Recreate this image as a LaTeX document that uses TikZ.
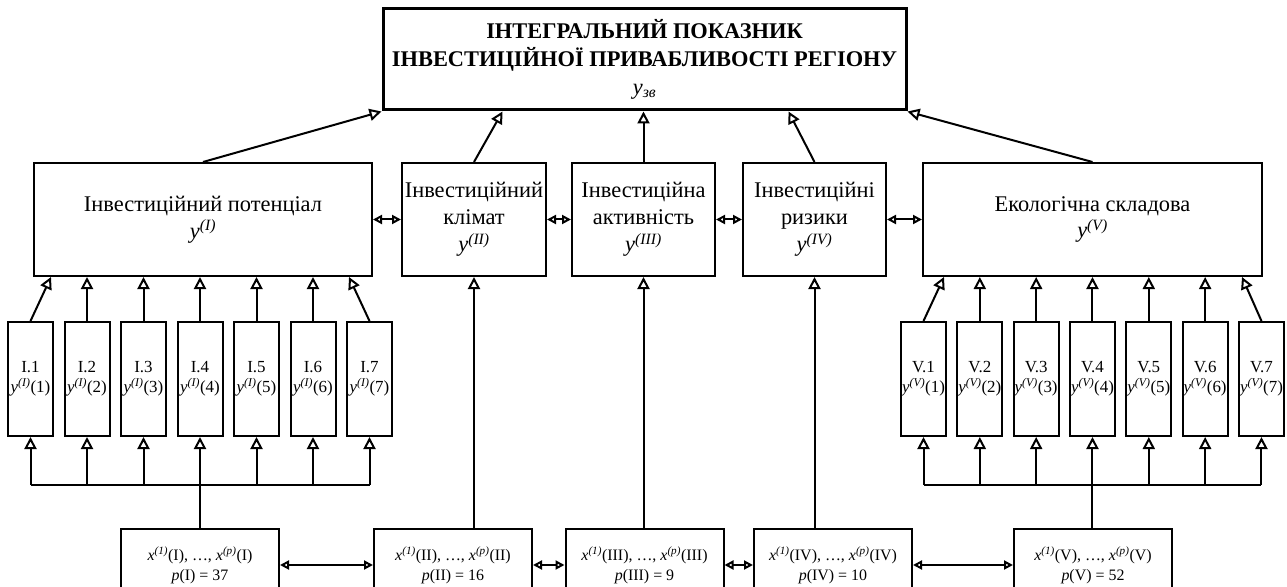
\documentclass[tikz,border=0pt]{standalone}
\usepackage{fontspec}
\setmainfont{Liberation Serif}
\usetikzlibrary{arrows.meta}
\newcommand{\yy}[1]{\textit{y}\textsuperscript{\textit{(#1)}}}
\newcommand{\xx}[1]{\textit{x}\textsuperscript{\textit{(#1)}}}
\begin{document}
\begin{tikzpicture}[x=1bp,y=-1bp,
  box/.style={draw, line width=2bp, inner sep=0pt, align=center},
  midbox/.style={box, minimum height=113bp, font=\fontsize{22.5}{27}\selectfont},
  smallbox/.style={box, minimum width=45bp, minimum height=114bp, font=\fontsize{17}{20}\selectfont},
  botbox/.style={box, minimum width=158bp, minimum height=72bp, font=\fontsize{16}{20}\selectfont},
  arr/.style={line width=2bp, -{Triangle[open,length=12bp,width=12bp,line width=2bp]}},
  dbl/.style={line width=2bp, {Triangle[open,length=9bp,width=9bp,line width=2bp]}-{Triangle[open,length=9bp,width=9bp,line width=2bp]}},
  ln/.style={line width=2bp}
]
\useasboundingbox (0,0) rectangle (1287,587);
\clip (0,0) rectangle (1287,587);
% top
\node[draw, line width=3bp, inner sep=0pt, align=center, minimum width=523bp, minimum height=101bp,
  font=\fontsize{22.5}{28}\selectfont] (top) at (644.5,59.5)
  {\textbf{ІНТЕГРАЛЬНИЙ ПОКАЗНИК}\\\textbf{ІНВЕСТИЦІЙНОЇ ПРИВАБЛИВОСТІ РЕГІОНУ}\\\textit{y}\textsubscript{\textit{зв}}};
% middle row
\node[midbox, minimum width=338bp] (m1) at (203,219.5) {Інвестиційний потенціал\\\yy{I}};
\node[midbox, minimum width=144bp] (m2) at (474,219.5) {Інвестиційний\\клімат\\\yy{II}};
\node[midbox, minimum width=143bp] (m3) at (643.5,219.5) {Інвестиційна\\активність\\\yy{III}};
\node[midbox, minimum width=143bp] (m4) at (814.5,219.5) {Інвестиційні\\ризики\\\yy{IV}};
\node[midbox, minimum width=339bp] (m5) at (1092.5,219.5) {Екологічна складова\\\yy{V}};
% small boxes
\foreach \i in {1,...,7} {
  \node[smallbox] (a\i) at ({30.5+56.5*(\i-1)},379) {I.\i\\\yy{I}(\i)};
  \node[smallbox] (v\i) at ({923.5+56.33*(\i-1)},379) {V.\i\\\yy{V}(\i)};
}
% bottom boxes
\node[botbox] (b1) at (200,565) {\xx{1}(I), …, \xx{p}(I)\\\textit{p}(I) = 37};
\node[botbox] (b2) at (453,565) {\xx{1}(II), …, \xx{p}(II)\\\textit{p}(II) = 16};
\node[botbox] (b3) at (644.5,565) {\xx{1}(III), …, \xx{p}(III)\\\textit{p}(III) = 9};
\node[botbox] (b4) at (833,565) {\xx{1}(IV), …, \xx{p}(IV)\\\textit{p}(IV) = 10};
\node[botbox] (b5) at (1093,565) {\xx{1}(V), …, \xx{p}(V)\\\textit{p}(V) = 52};
% middle to top
\draw[arr] (m1.north) -- (top.south west);
\draw[arr] (m2.north) -- ([xshift=-142bp]top.south);
\draw[arr] (m3.north) -- (m3.north |- top.south);
\draw[arr] (m4.north) -- ([xshift=144bp]top.south);
\draw[arr] (m5.north) -- (top.south east);
% middle double arrows
\draw[dbl] (m1.east) -- (m2.west);
\draw[dbl] (m2.east) -- (m3.west);
\draw[dbl] (m3.east) -- (m4.west);
\draw[dbl] (m4.east) -- (m5.west);
% small to middle
\draw[arr] (a1.north) -- ([xshift=18bp]m1.south west);
\draw[arr] (a7.north) -- ([xshift=-24bp]m1.south east);
\foreach \i in {2,...,6} { \draw[arr] (a\i.north) -- (a\i.north |- m1.south); }
\draw[arr] (v1.north) -- ([xshift=22bp]m5.south west);
\draw[arr] (v7.north) -- ([xshift=-21bp]m5.south east);
\foreach \i in {2,...,6} { \draw[arr] (v\i.north) -- (v\i.north |- m5.south); }
% buses
\coordinate (ab1) at (a1.south |- 0,485);
\coordinate (ab7) at (a7.south |- 0,485);
\draw[ln] (ab1) -- (ab7);
\foreach \i in {1,2,3,5,6,7} { \draw[arr] (a\i.south |- ab1) -- (a\i.south); }
\draw[arr] (b1.north) -- (a4.south);
\coordinate (vb1) at (v1.south |- 0,485);
\coordinate (vb7) at (v7.south |- 0,485);
\draw[ln] (vb1) -- (vb7);
\foreach \i in {1,2,3,5,6,7} { \draw[arr] (v\i.south |- vb1) -- (v\i.south); }
\draw[arr] (b5.north -| v4.south) -- (v4.south);
% bottom to middle
\draw[arr] (m2.south |- b2.north) -- (m2.south);
\draw[arr] (m3.south |- b3.north) -- (m3.south);
\draw[arr] (m4.south |- b4.north) -- (m4.south);
% bottom double arrows
\draw[dbl] (b1.east) -- (b2.west);
\draw[dbl] (b2.east) -- (b3.west);
\draw[dbl] (b3.east) -- (b4.west);
\draw[dbl] (b4.east) -- (b5.west);
\end{tikzpicture}
\end{document}
